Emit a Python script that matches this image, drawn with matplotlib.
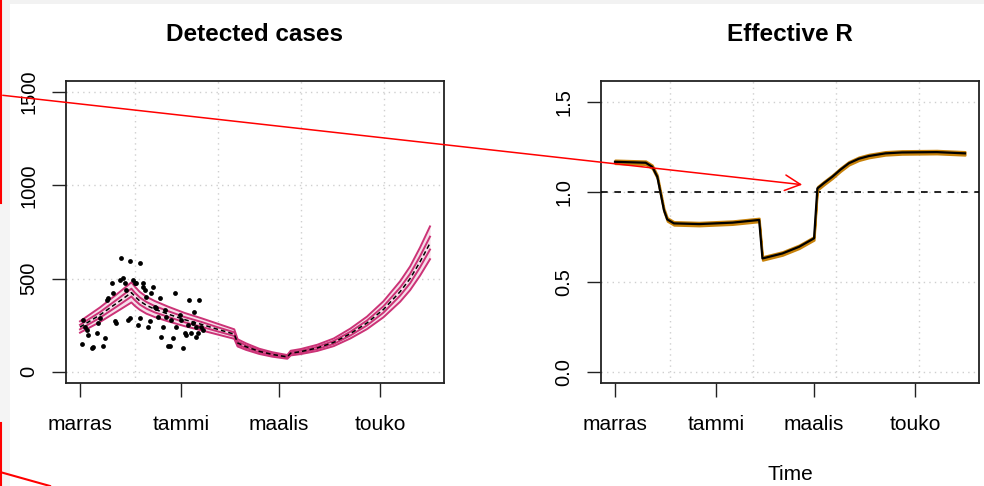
#! /usr/bin/env python3

import matplotlib
matplotlib.use('Agg')
import matplotlib.pyplot as plt
from matplotlib.lines import Line2D
from matplotlib.patches import FancyArrowPatch, Rectangle

plt.rcParams['font.family'] = ['Liberation Sans', 'DejaVu Sans']

# days counted from 1 Nov 2020
month_days = [0, 61, 120, 181]
month_labels = ['marras', 'tammi', 'maalis', 'touko']
grid_days = [33, 83, 133, 183]

# observed daily detected cases
obs_days = [1, 2, 3, 4, 5, 7, 8, 10, 11, 12, 14, 15, 16, 17, 19, 20, 21, 22,
            24, 25, 26, 27, 28, 29, 30, 30, 32, 33, 34, 35, 36, 36, 38, 38,
            39, 40, 41, 42, 43, 44, 45, 46, 47, 48, 49, 50, 51, 52, 53, 54,
            55, 56, 57, 58, 60, 61, 62, 63, 64, 65, 66, 67, 68, 69, 70, 70,
            71, 72, 73, 74]
obs_cases = [148, 279, 243, 225, 198, 127, 132, 207, 261, 288, 141, 180, 386,
             395, 475, 421, 270, 261, 493, 609, 502, 475, 439, 279, 288, 595,
             493, 479, 475, 252, 288, 582, 475, 457, 439, 404, 243, 270, 421,
             457, 350, 341, 296, 395, 189, 243, 332, 296, 136, 136, 279, 180,
             421, 243, 305, 279, 127, 207, 198, 252, 386, 207, 261, 323, 243,
             189, 207, 386, 243, 225]

# fitted cases: median with 50% and 95% bands
fit_days = [0, 12, 24, 31, 33, 36, 40, 45, 53, 63, 73, 83, 93, 95, 100, 108,
            116, 125, 127, 133, 143, 153, 163, 173, 183, 193, 199, 205, 211]
fit_med = [240, 305, 380, 425, 405, 380, 357, 336, 310, 280, 255, 228, 202,
           155, 135, 110, 93, 80, 100, 108, 128, 158, 205, 262, 335, 430, 500,
           590, 690]
fit_hi95 = [271, 345, 429, 480, 458, 429, 403, 380, 350, 316, 288, 258, 228,
            175, 153, 124, 105, 90, 113, 122, 145, 179, 232, 296, 379, 486,
            565, 667, 780]
fit_lo95 = [210, 267, 333, 372, 354, 333, 312, 294, 271, 245, 223, 200, 177,
            136, 118, 96, 81, 70, 88, 95, 112, 138, 179, 229, 293, 376, 438,
            516, 604]
fit_hi50 = [252, 320, 399, 446, 425, 399, 375, 353, 326, 294, 268, 239, 212,
            163, 142, 116, 98, 84, 105, 113, 134, 166, 215, 275, 352, 452, 525,
            620, 725]
fit_lo50 = [228, 290, 361, 404, 385, 361, 339, 319, 295, 266, 242, 217, 192,
            147, 128, 105, 88, 76, 95, 103, 122, 150, 195, 249, 318, 409, 475,
            561, 656]

# effective reproduction number
r_days = [0, 18.5, 22.5, 25.5, 27.5, 29.5, 31.5, 35.5, 50.7, 70.8, 86.9, 88.9,
          101, 111, 120, 122, 126, 131, 136, 141, 147, 153, 163, 173, 194, 211]
r_med = [1.168, 1.163, 1.14, 1.085, 0.993, 0.9, 0.848, 0.826, 0.822, 0.83,
         0.845, 0.631, 0.659, 0.696, 0.743, 1.02, 1.05, 1.085, 1.125, 1.16,
         1.185, 1.20, 1.215, 1.22, 1.222, 1.215]
r_hi = [1.178, 1.173, 1.15, 1.095, 1.003, 0.91, 0.858, 0.836, 0.832, 0.84,
        0.855, 0.641, 0.669, 0.706, 0.753, 1.03, 1.06, 1.095, 1.135, 1.17,
        1.195, 1.21, 1.225, 1.23, 1.232, 1.225]
r_lo = [1.158, 1.153, 1.13, 1.075, 0.983, 0.89, 0.838, 0.816, 0.812, 0.82,
        0.835, 0.621, 0.649, 0.686, 0.733, 1.01, 1.04, 1.075, 1.115, 1.15,
        1.175, 1.19, 1.205, 1.21, 1.212, 1.205]

W, H = 984, 486
PINK = '#cc3377'
ORANGE = '#c8820a'


def px_axes(fig, x0, y0, x1, y1):
    return fig.add_axes([x0 / W, 1 - y1 / H, (x1 - x0) / W, (y1 - y0) / H])


def style_axes(ax, yticks, yticklabels):
    ax.set_xlim(-8.44, 219.44)
    ax.set_xticks(month_days)
    ax.set_xticklabels(month_labels)
    ax.set_yticks(yticks)
    ax.set_yticklabels(yticklabels, rotation=90, va='center')
    for v in grid_days:
        ax.axvline(v, color='#cfcfcf', lw=1, ls=(0, (1, 3)), zorder=0)
    for v in yticks:
        ax.axhline(v, color='#cfcfcf', lw=1, ls=(0, (1, 3)), zorder=0)
    for s in ax.spines.values():
        s.set_color('#222222')
        s.set_linewidth(1.3)
    ax.tick_params(axis='both', length=10, width=1, color='#222222',
                   labelcolor='black')
    ax.tick_params(axis='x', pad=13, labelsize=15)
    ax.tick_params(axis='y', pad=10, labelsize=14.5)


def main():
    fig = plt.figure(figsize=(W / 100, H / 100), dpi=100)
    fig.patch.set_facecolor('white')

    # left panel: detected cases
    ax1 = px_axes(fig, 66, 81, 444, 383)
    ax1.set_ylim(-60, 1560)
    style_axes(ax1, [0, 500, 1000, 1500], ['0', '500', '1000', '1500'])
    ax1.fill_between(fit_days, fit_lo95, fit_hi95, color=PINK, alpha=0.16,
                     lw=0, zorder=2)
    for band in (fit_hi95, fit_lo95, fit_hi50, fit_lo50):
        ax1.plot(fit_days, band, color=PINK, lw=1.4, zorder=3,
                 solid_joinstyle='round')
    ax1.plot(fit_days, fit_med, color='black', lw=1.1, ls=(0, (3, 2)), zorder=4)
    ax1.scatter(obs_days, obs_cases, s=12, color='black', lw=0, zorder=5)
    ax1.set_title('Detected cases', fontsize=17.5, fontweight='bold', pad=29)

    # right panel: effective R
    ax2 = px_axes(fig, 601, 81, 979, 383)
    ax2.set_ylim(-0.061, 1.617)
    style_axes(ax2, [0.0, 0.5, 1.0, 1.5], ['0.0', '0.5', '1.0', '1.5'])
    ax2.axhline(1.0, color='black', lw=1.2, ls=(0, (4, 4)), zorder=3)
    ax2.fill_between(r_days, r_lo, r_hi, color=ORANGE, lw=1.5, ec=ORANGE,
                     zorder=4)
    ax2.plot(r_days, r_med, color='black', lw=1.6, zorder=5,
             solid_joinstyle='round')
    ax2.set_title('Effective R', fontsize=17.5, fontweight='bold', pad=29)
    ax2.set_xlabel('Time', fontsize=15, labelpad=22)

    # screenshot edge and red markup lines
    fig.add_artist(Rectangle((0, 1 - 4 / H), 1, 4 / H, transform=fig.transFigure,
                             color='#f2f2f2', lw=0))
    fig.add_artist(Rectangle((0, 0), 10 / W, 1, transform=fig.transFigure,
                             color='#f4f4f4', lw=0))
    red_segments = [((1, 0), (1, 203)), ((1, 423), (1, 486)),
                    ((0, 472), (50, 486))]
    for (xa, ya), (xb, yb) in red_segments:
        fig.add_artist(Line2D([xa / W, xb / W], [1 - ya / H, 1 - yb / H],
                              transform=fig.transFigure, color='red', lw=1.5))
    fig.add_artist(FancyArrowPatch((0, 1 - 95 / H), (805 / W, 1 - 185 / H),
                                   transform=fig.transFigure, color='red',
                                   lw=1.1, arrowstyle='->', mutation_scale=28))

    plt.savefig('out.png', dpi=100)
    print('saved figure to file out.png')


if __name__ == '__main__':
    main()
